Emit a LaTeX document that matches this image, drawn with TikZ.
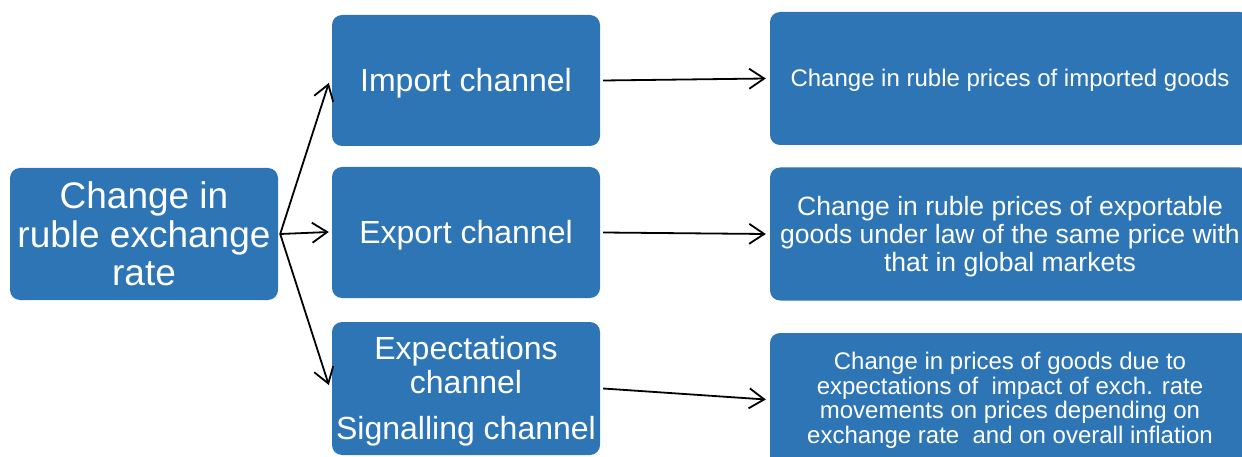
\documentclass[tikz,border=0pt]{standalone}
\usepackage{fontspec}
\setmainfont{Liberation Sans}
\usetikzlibrary{arrows.meta}
\definecolor{boxblue}{HTML}{2E75B6}

\begin{document}
\begin{tikzpicture}[x=1pt,y=-1pt,
  box/.style={fill=boxblue, rounded corners=10pt, inner sep=0pt},
  txt/.style={text=white, align=center, inner sep=0pt},
  chanbox/.style={box, minimum width=268pt, minimum height=131pt},
  chantxt/.style={txt, font=\fontsize{32}{34}\selectfont},
  effbox/.style={box, minimum width=480pt, minimum height=133pt},
  arr/.style={line width=1.8pt,
              -{Straight Barb[length=15pt,width=20pt,line width=1.8pt]}},
]
\useasboundingbox (0,0) rectangle (1242,457);
\clip (0,0) rectangle (1242,457);

% source
\node[box, minimum width=268pt, minimum height=132pt] (src) at (144,234) {};
\node[txt, font=\fontsize{37}{38.5}\selectfont] (srct) at (src.center)
  {Change in\\ruble exchange\\rate};

% transmission channels
\node[chanbox] (imp) at (466,80.5) {};
\node[chantxt] (impt) at ([yshift=-3pt]imp.center) {Import channel};
\node[chanbox] (exp) at (466,232.5) {};
\node[chantxt] (expt) at ([yshift=-3pt]exp.center) {Export channel};
\node[chanbox, minimum height=133pt] (sig) at (466,388.5) {};
\node[chantxt] (sigt) at ([yshift=-3pt]sig.center)
  {Expectations\\channel\\[12pt]Signalling channel};

% effects on prices
\node[effbox] (eimp) at (1010,78.5) {};
\node[txt, font=\fontsize{24}{26}\selectfont] (eimpt) at ([yshift=-2pt]eimp.center)
  {Change in ruble prices of imported goods};
\node[effbox] (eexp) at (1010,234) {};
\node[txt, font=\fontsize{26.5}{28}\selectfont] (eexpt) at ([yshift=-3pt]eexp.center)
  {Change in ruble prices of exportable\\goods under law of the same price with\\that in global markets};
\node[effbox] (esig) at (1010,399.5) {};
\node[txt, font=\fontsize{24}{24.5}\selectfont] (esigt) at ([yshift=-1pt]esig.center)
  {Change in prices of goods due to\\expectations of\ \ impact of exch. rate\\movements on prices depending on\\exchange rate\ \ and on overall inflation};

% connectors
\draw[arr] ([xshift=2pt]src.east) -- ([xshift=-3pt,yshift=-2.5pt]imp.west);
\draw[arr] ([xshift=2pt]src.east) -- ([xshift=-3pt,yshift=0.5pt]exp.west);
\draw[arr] ([xshift=2pt]src.east) -- ([xshift=-3pt,yshift=3.5pt]sig.west);

\draw[arr] ([xshift=3pt]imp.east) -- ([xshift=-4pt]eimp.west);
\draw[arr] ([xshift=3pt]exp.east) -- ([xshift=-4pt]eexp.west);
\draw[arr] ([xshift=3pt]sig.east) -- ([xshift=-4pt]esig.west);
\end{tikzpicture}
\end{document}
